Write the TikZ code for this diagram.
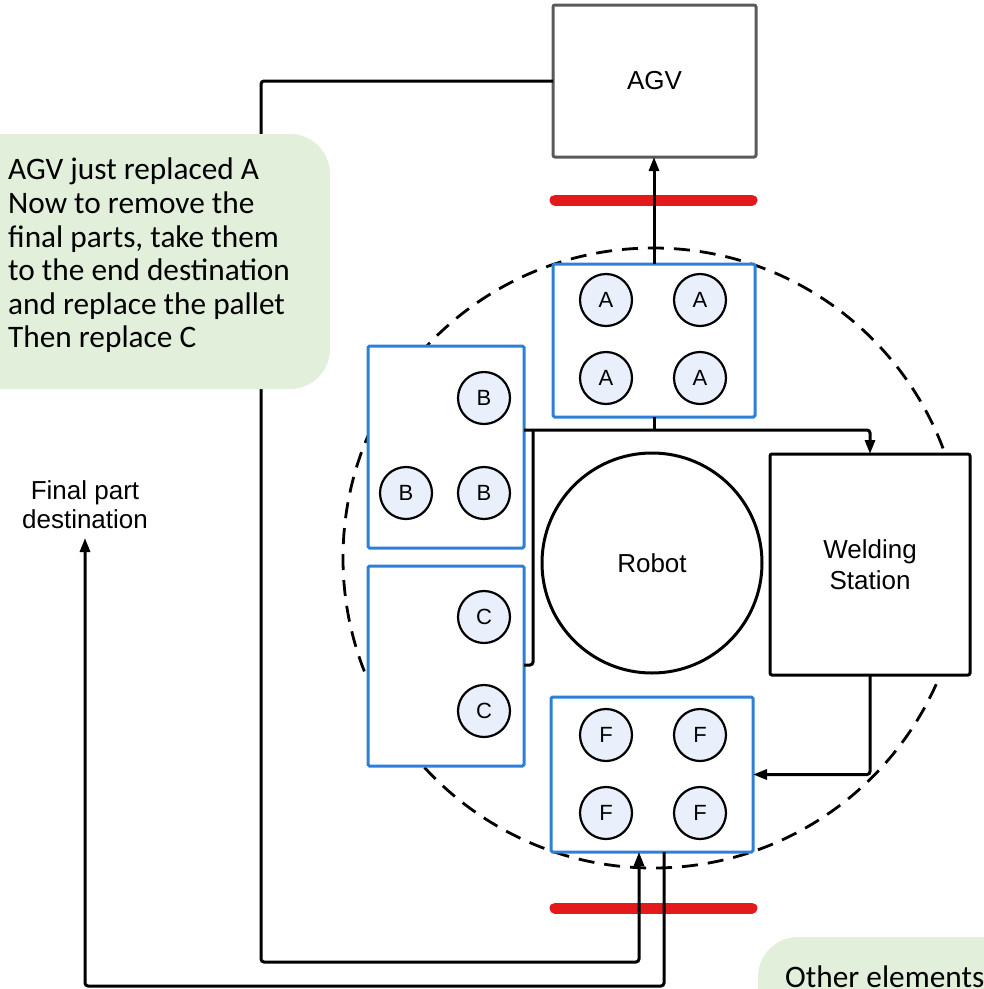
\documentclass[tikz,border=0pt]{standalone}
\usepackage{fontspec}
\setmainfont{Liberation Sans}
\newfontfamily\notefont{Carlito}
\usetikzlibrary{arrows.meta}
\definecolor{palletblue}{HTML}{2E7FD6}
\definecolor{partfill}{HTML}{E9F0FB}
\definecolor{notegreen}{HTML}{E2EFDA}
\definecolor{barred}{HTML}{E3191C}
\definecolor{agvgray}{HTML}{5A5A5A}
\begin{document}
\begin{tikzpicture}[x=1pt,y=-1pt,
  pallet/.style={draw=palletblue, line width=3pt, fill=white, rounded corners=1.5pt, inner sep=0pt, outer sep=0pt},
  part/.style={circle, draw=black, line width=2.2pt, fill=partfill, minimum size=52pt, inner sep=0pt, font=\fontsize{22}{22}\selectfont},
  plainbox/.style={draw=black, line width=3pt, fill=white, rounded corners=2pt, inner sep=0pt, outer sep=0pt},
  conn/.style={draw=black, line width=3pt, rounded corners=3pt},
  arr/.style={-{Triangle[length=14pt,width=10pt]}},
  bar/.style={draw=barred, line width=11pt, line cap=round},
  notebox/.style={fill=notegreen, rounded corners=40pt},
  notetext/.style={inner sep=0pt, align=left, font=\notefont\fontsize{31.3}{33.6}\selectfont}
]
\useasboundingbox (0,0) rectangle (984,989);
\clip (0,0) rectangle (984,989);

% dashed cell boundary
\draw[line width=2.8pt, dash pattern=on 16pt off 10pt] (653,558) circle[radius=310];

% red barriers
\draw[bar] (555,200) -- (752,200);
\draw[bar] (555,908) -- (752,908);

% main boxes
\node[plainbox, draw=agvgray, minimum width=203pt, minimum height=152pt, font=\fontsize{26}{26}\selectfont] (agv) at (654.5,81) {AGV};
\node[circle, draw=black, line width=3pt, fill=white, minimum size=220pt, inner sep=0pt, font=\fontsize{26}{26}\selectfont] (robot) at (652,563) {Robot};
\node[plainbox, minimum width=200pt, minimum height=221pt, align=center, font=\fontsize{26}{31}\selectfont] (weld) at (870,564.5) {Welding\\Station};

% pallets
\node[pallet, minimum width=202pt, minimum height=153pt] (pa) at (654,340.5) {};
\node[part] (a1) at (606,300) {A};
\node[part] (a2) at (700,300) {A};
\node[part] (a3) at (606,378) {A};
\node[part] (a4) at (700,378) {A};

\node[pallet, minimum width=156pt, minimum height=202pt] (pb) at (446,447) {};
\node[part] (b1) at (484,398) {B};
\node[part] (b2) at (406,493) {B};
\node[part] (b3) at (484,493) {B};

\node[pallet, minimum width=156pt, minimum height=200pt] (pc) at (446,666) {};
\node[part] (c1) at (484,617) {C};
\node[part] (c2) at (484,711) {C};

\node[pallet, minimum width=202pt, minimum height=155pt] (pf) at (652,774.5) {};
\node[part] (f1) at (606,735) {F};
\node[part] (f2) at (700,735) {F};
\node[part] (f3) at (606,813) {F};
\node[part] (f4) at (700,813) {F};

% destination label
\node[inner sep=0pt, align=center, anchor=south, font=\fontsize{26}{29}\selectfont] (dest) at (85,529) {Final part\\destination};
\coordinate (destpt) at (85,538);

% helper coordinates
\coordinate (hy) at (0,430);
\coordinate (vx) at (533,0);
\coordinate (cy) at (0,665);
\coordinate (lx) at (261,0);
\coordinate (by1) at (0,962);
\coordinate (by2) at (0,986);
\coordinate (fin) at (639,0);
\coordinate (fout) at (664,0);

% connectors
\draw[conn, arr] (pa.north) -- (pa.north |- agv.south);
\draw[conn] (pa.south) -- (pa.south |- hy);
\draw[conn, arr] (pb.east |- hy) -- (weld.north |- hy) -- (weld.north);
\draw[conn] (vx |- hy) -- (vx |- cy) -- (pc.east |- cy);
\draw[conn, arr] (weld.south) |- (pf.east);
\draw[conn, arr] (agv.west) -| (lx |- by1) -| (fin |- pf.south);
\draw[conn, arr] (fout |- pf.south) |- (destpt |- by2) -- (destpt);

% notes (drawn over the connectors)
\fill[notebox] (-60,134) rectangle (330,389);
\node[notetext, anchor=north west] (note1) at (8,158) {AGV just replaced A\\Now to remove the\\final parts, take them\\to the end destination\\and replace the pallet\\Then replace C};
\fill[notebox] (758,937) rectangle (1060,1060);
\node[notetext, anchor=base west] (note2) at (785,987) {Other elements};
\end{tikzpicture}
\end{document}
